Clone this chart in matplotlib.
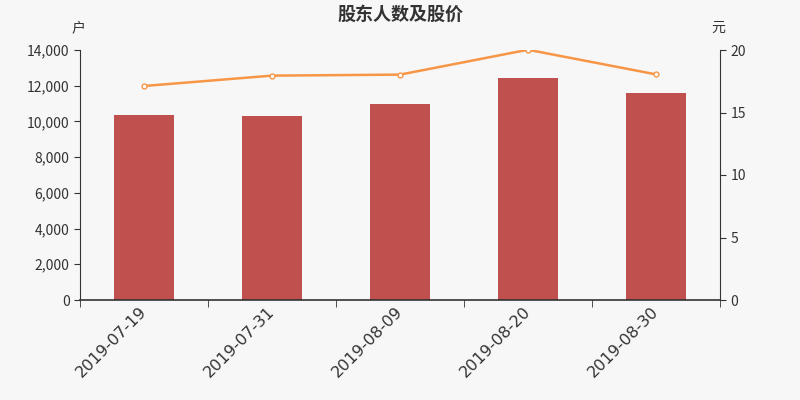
import numpy as np
import matplotlib
matplotlib.use('Agg')
import matplotlib.pyplot as plt
from matplotlib.ticker import FuncFormatter, FixedLocator

plt.rcParams['font.family'] = ['Noto Sans CJK SC', 'DejaVu Sans']

dates = ['2019-07-19', '2019-07-31', '2019-08-09', '2019-08-20', '2019-08-30']
holders = [10340, 10320, 10990, 12410, 11610]
price = [17.12, 17.95, 18.03, 20.02, 18.05]

bg = '#f7f7f7'
bar_color = '#c0504d'
line_color = '#f79646'
text_color = '#333333'

fig = plt.figure(figsize=(8, 4), dpi=100, facecolor=bg)
ax = fig.add_axes([0.1, 0.25, 0.8, 0.625], facecolor=bg)

x = np.arange(len(dates))
ax.bar(x, holders, width=0.47, color=bar_color, zorder=2)
ax.set_xlim(-0.5, len(dates) - 0.5)
ax.set_ylim(0, 14000)
ax.set_yticks(np.arange(0, 14001, 2000))
ax.yaxis.set_major_formatter(FuncFormatter(lambda v, p: f'{int(v):,}'))

ax.set_xticks(x)
ax.set_xticklabels(dates, rotation=45, ha='right', va='center', rotation_mode='anchor',
                   fontsize=11.5, color=text_color, family='DejaVu Sans')
ax.tick_params(axis='x', which='major', length=0, pad=7)
ax.xaxis.set_minor_locator(FixedLocator(np.arange(-0.5, len(dates), 1.0)))
ax.tick_params(axis='x', which='minor', length=5, color=text_color)
ax.tick_params(axis='y', length=4, color=text_color, labelsize=10, labelcolor=text_color)

for s in ['top', 'right']:
    ax.spines[s].set_visible(False)
ax.spines['left'].set_color(text_color)
ax.spines['bottom'].set_color(text_color)
ax.spines['bottom'].set_linewidth(1.2)

ax2 = ax.twinx()
ax2.plot(x, price, color=line_color, linewidth=1.8, marker='o', markersize=3.5,
         markerfacecolor='white', markeredgecolor=line_color, markeredgewidth=1, zorder=3)
ax2.set_ylim(0, 20)
ax2.set_yticks([0, 5, 10, 15, 20])
ax2.tick_params(axis='y', length=4, color=text_color, labelsize=10, labelcolor=text_color)
for s in ['top', 'left', 'bottom']:
    ax2.spines[s].set_visible(False)
ax2.spines['right'].set_color(text_color)

fig.text(0.5, 0.965, '股东人数及股价', ha='center', va='center', fontsize=13,
         fontweight='bold', color=text_color)
fig.text(0.098, 0.93, '户', ha='center', va='center', fontsize=10, color=text_color)
fig.text(0.898, 0.93, '元', ha='center', va='center', fontsize=10, color=text_color)

fig.savefig('out.png', dpi=100, facecolor=bg)
